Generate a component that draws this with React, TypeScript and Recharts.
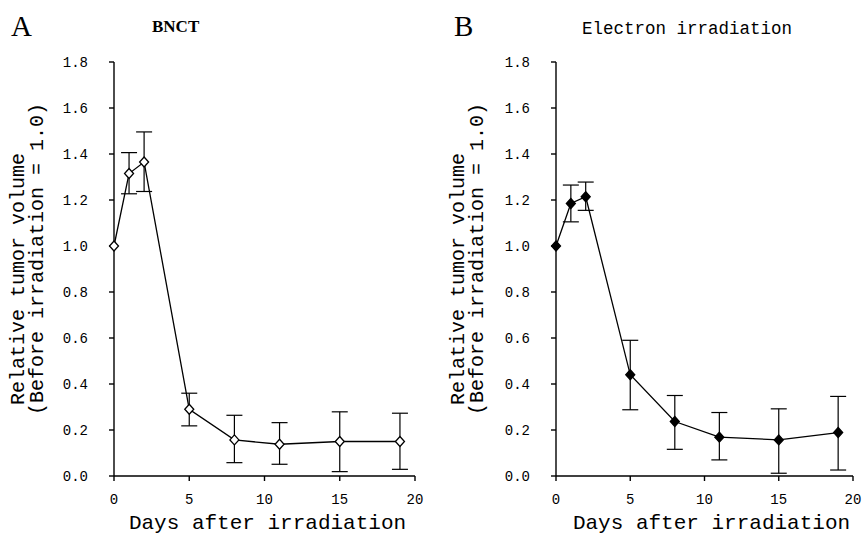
import React from 'react';
import { LineChart, Line, XAxis, YAxis, ErrorBar } from 'recharts';

const days = [0, 1, 2, 5, 8, 11, 15, 19];
const bnctMean = [1.0, 1.315, 1.365, 0.29, 0.157, 0.138, 0.15, 0.15];
const bnctLow = [null, 1.227, 1.237, 0.218, 0.058, 0.051, 0.019, 0.029];
const bnctHigh = [null, 1.406, 1.496, 0.36, 0.264, 0.232, 0.279, 0.273];
const elecMean = [1.0, 1.185, 1.214, 0.44, 0.237, 0.169, 0.157, 0.189];
const elecLow = [null, 1.105, 1.155, 0.288, 0.116, 0.07, 0.012, 0.026];
const elecHigh = [null, 1.265, 1.278, 0.59, 0.35, 0.276, 0.292, 0.346];
const xTicks = [0, 5, 10, 15, 20];
const yTicks = [0, 0.2, 0.4, 0.6, 0.8, 1.0, 1.2, 1.4, 1.6, 1.8];

const yTitle1 = 'Relative tumor volume';
const yTitle2 = '(Before irradiation = 1.0)';
const xTitle = 'Days after irradiation';

function buildRows(mean: number[], low: (number | null)[], high: (number | null)[]) {
  return days.map((d, i) => ({
    day: d,
    v: mean[i],
    err: low[i] == null || high[i] == null ? null : [mean[i] - (low[i] as number), (high[i] as number) - mean[i]],
  }));
}

const mono = "'Liberation Mono', 'DejaVu Sans Mono', monospace";
const serif = "'Liberation Serif', 'DejaVu Serif', serif";

function Diamond(props: any) {
  const { cx, cy, filled, index } = props;
  if (cx == null || cy == null) return <g key={index} />;
  const d = `M${cx},${cy - 5} L${cx + 4.5},${cy} L${cx},${cy + 5} L${cx - 4.5},${cy} Z`;
  return <path key={index} d={d} fill={filled ? '#000' : '#fff'} stroke="#000" strokeWidth={1.3} />;
}

function Panel(props: { rows: any[]; filled: boolean; width: number; left: number; right: number; t1x: number; t2x: number; xOff: number }) {
  const { rows, filled, width, left, right, t1x, t2x, xOff } = props;
  return (
    <LineChart width={width} height={536} data={rows} margin={{ top: 62, right, bottom: 30, left }}>
      <XAxis
        dataKey="day"
        type="number"
        domain={[0, 20]}
        ticks={xTicks}
        height={30}
        stroke="#000"
        strokeWidth={1.4}
        tickSize={5}
        tickMargin={13}
        tick={{ fill: '#000', fontFamily: mono, fontSize: 14 }}
        label={{
          content: (p: any) => {
            const vb = p.viewBox || { x: 0, y: 0, width: 0 };
            return (
              <text x={vb.x + vb.width / 2 + xOff} y={vb.y + 53} textAnchor="middle" fontFamily={mono} fontSize={21} fill="#000">
                {xTitle}
              </text>
            );
          },
        }}
      />
      <YAxis
        type="number"
        domain={[0, 1.8]}
        ticks={yTicks}
        width={50}
        stroke="#000"
        strokeWidth={1.4}
        tickSize={5}
        tickMargin={21}
        tickFormatter={(v: number) => v.toFixed(1)}
        tick={{ fill: '#000', fontFamily: mono, fontSize: 14 }}
        label={{
          content: () => (
            <g>
              <text x={t1x} y={405} transform={`rotate(-90, ${t1x}, 405)`} dominantBaseline="central" textAnchor="start" fontFamily={mono} fontSize={20} fill="#000">
                {yTitle1}
              </text>
              <text x={t2x} y={415} transform={`rotate(-90, ${t2x}, 415)`} dominantBaseline="central" textAnchor="start" fontFamily={mono} fontSize={20} fill="#000">
                {yTitle2}
              </text>
            </g>
          ),
        }}
      />
      <Line
        dataKey="v"
        stroke="#000"
        strokeWidth={1.3}
        isAnimationActive={false}
        dot={(p: any) => <Diamond {...p} filled={filled} />}
        activeDot={false}
      >
        <ErrorBar dataKey="err" width={8} stroke="#000" strokeWidth={1.2} direction="y" isAnimationActive={false} />
      </Line>
    </LineChart>
  );
}

export default function App() {
  const rowsA = buildRows(bnctMean, bnctLow, bnctHigh);
  const rowsB = buildRows(elecMean, elecLow, elecHigh);
  return (
    <div style={{ position: 'absolute', left: 0, top: 0, width: 862, height: 536, background: '#fff', overflow: 'hidden' }}>
      <div style={{ position: 'absolute', left: 0, top: 0 }}>
        <Panel rows={rowsA} filled={false} width={430} left={64} right={15} t1x={18} t2x={37} xOff={3} />
      </div>
      <div style={{ position: 'absolute', left: 430, top: 0 }}>
        <Panel rows={rowsB} filled={true} width={432} left={76} right={9} t1x={28} t2x={47} xOff={7} />
      </div>
      <div style={{ position: 'absolute', left: 11, top: 8, fontFamily: serif, fontSize: 29, lineHeight: '36px', color: '#000' }}>A</div>
      <div style={{ position: 'absolute', left: 152, top: 16, fontFamily: serif, fontSize: 17, fontWeight: 'bold', lineHeight: '22px', color: '#000' }}>BNCT</div>
      <div style={{ position: 'absolute', left: 454, top: 8, fontFamily: serif, fontSize: 29, lineHeight: '36px', color: '#000' }}>B</div>
      <div style={{ position: 'absolute', left: 582, top: 18, fontFamily: mono, fontSize: 17.5, lineHeight: '22px', color: '#000' }}>Electron irradiation</div>
    </div>
  );
}
